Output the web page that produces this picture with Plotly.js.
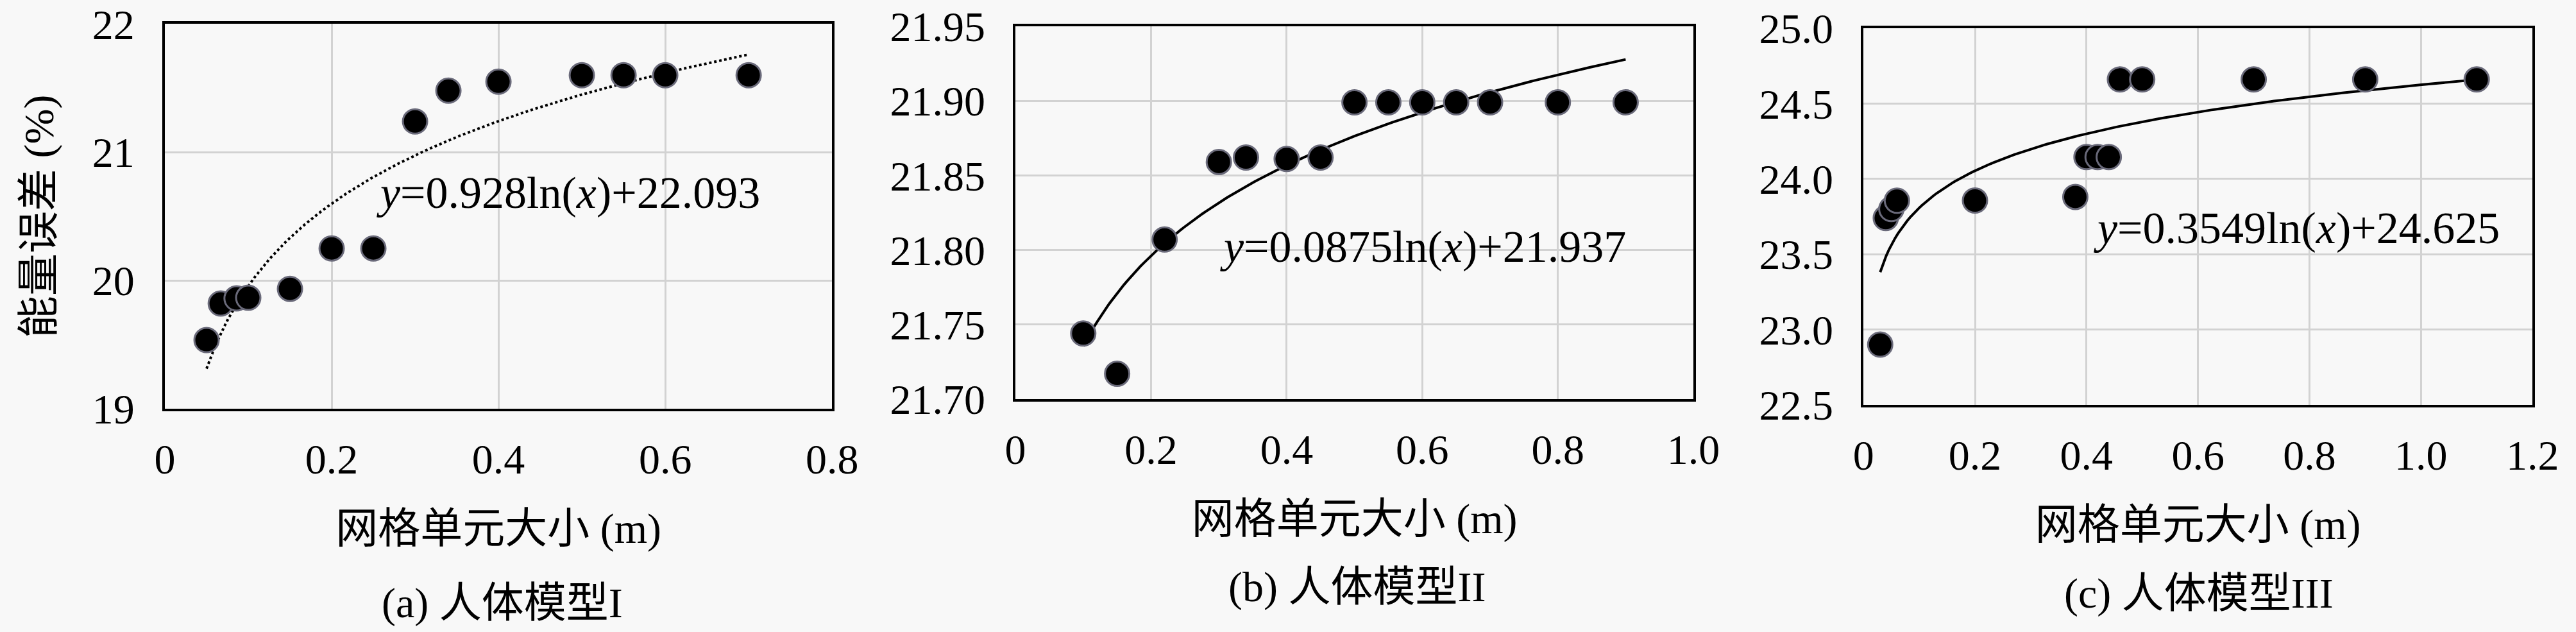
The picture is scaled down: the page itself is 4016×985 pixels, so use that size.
<!DOCTYPE html>
<html>
<head>
<meta charset="utf-8">
<script src="https://cdn.plot.ly/plotly-3.0.1.min.js"></script>
<style>
  html, body { margin: 0; padding: 0; background: #f8f8f8; }
  #graph { width: 4016px; height: 985px; }
</style>
</head>
<body>
<div id="graph"></div>
<script>
// panel (a) 人体模型I
var xA = [0.05, 0.067, 0.086, 0.1, 0.15, 0.2, 0.25, 0.3, 0.34, 0.4, 0.5, 0.55, 0.6, 0.7];
var yA = [19.535, 19.82, 19.86, 19.865, 19.935, 20.25, 20.25, 21.24, 21.48, 21.55, 21.6, 21.6, 21.6, 21.6];
var fitA = {a: 0.928, b: 22.093, from: 0.05, to: 0.7};

// panel (b) 人体模型II
var xB = [0.1, 0.15, 0.22, 0.3, 0.34, 0.4, 0.45, 0.5, 0.55, 0.6, 0.65, 0.7, 0.8, 0.9];
var yB = [21.744, 21.717, 21.807, 21.859, 21.862, 21.861, 21.862, 21.899, 21.899, 21.899, 21.899, 21.899, 21.899, 21.899];
var fitB = {a: 0.0875, b: 21.937, from: 0.1, to: 0.9};

// panel (c) 人体模型III
var xC = [0.03, 0.04, 0.05, 0.06, 0.2, 0.38, 0.4, 0.42, 0.44, 0.46, 0.5, 0.7, 0.9, 1.1];
var yC = [22.9, 23.74, 23.8, 23.855, 23.856, 23.88, 24.145, 24.145, 24.145, 24.66, 24.66, 24.66, 24.66, 24.66];
var fitC = {a: 0.3549, b: 24.625, from: 0.03, to: 1.1};

// tick labels
var xTicksA = [0, 0.2, 0.4, 0.6, 0.8];
var xTextA = ['0', '0.2', '0.4', '0.6', '0.8'];
var yTicksA = [19, 20, 21, 22];
var yTextA = ['19', '20', '21', '22'];
var xTicksB = [0, 0.2, 0.4, 0.6, 0.8, 1.0];
var xTextB = ['0', '0.2', '0.4', '0.6', '0.8', '1.0'];
var yTicksB = [21.70, 21.75, 21.80, 21.85, 21.90, 21.95];
var yTextB = ['21.70', '21.75', '21.80', '21.85', '21.90', '21.95'];
var xTicksC = [0, 0.2, 0.4, 0.6, 0.8, 1.0, 1.2];
var xTextC = ['0', '0.2', '0.4', '0.6', '0.8', '1.0', '1.2'];
var yTicksC = [22.5, 23.0, 23.5, 24.0, 24.5, 25.0];
var yTextC = ['22.5', '23.0', '23.5', '24.0', '24.5', '25.0'];

var xTitle = '网格单元大小 (m)';
var yTitle = '能量误差 (%)';
var captions = ['(a) 人体模型I', '(b) 人体模型II', '(c) 人体模型III'];
var equations = ['<i>y</i>=0.928ln(<i>x</i>)+22.093',
                 '<i>y</i>=0.0875ln(<i>x</i>)+21.937',
                 '<i>y</i>=0.3549ln(<i>x</i>)+24.625'];

var FONT = "'Liberation Serif', 'Noto Sans CJK SC', serif";

// logarithmic trendline, the same one the equation label states
function trend(fit){
    var xs = [], ys = [];
    var n = 200;
    for(var i = 0; i <= n; i++){
        var x = fit.from + (fit.to - fit.from) * i / n;
        xs.push(x);
        ys.push(fit.a * Math.log(x) + fit.b);
    }
    return {x: xs, y: ys};
}

function points(x, y, ax){
    return {
        x: x, y: y, xaxis: 'x' + ax, yaxis: 'y' + ax,
        mode: 'markers', type: 'scatter', cliponaxis: false,
        marker: {size: 38, color: '#000', line: {color: '#6a6a7a', width: 3}}
    };
}

function curve(fit, ax, dash){
    var t = trend(fit);
    return {
        x: t.x, y: t.y, xaxis: 'x' + ax, yaxis: 'y' + ax,
        mode: 'lines', type: 'scatter',
        line: {color: '#000', width: 4, dash: dash}
    };
}

function xAxis(dom, vals, text, range, anchor){
    return {
        domain: dom, range: range, anchor: anchor,
        tickmode: 'array', tickvals: vals, ticktext: text,
        ticks: 'outside', ticklen: 18, tickcolor: 'rgba(0,0,0,0)',
        ticklabeloverflow: 'allow',
        showgrid: true, gridcolor: '#d2d2d2', gridwidth: 3,
        showline: true, linecolor: '#000', linewidth: 4, mirror: true,
        zeroline: false, tickfont: {family: FONT, size: 66, color: '#000'},
        title: {text: xTitle, font: {family: FONT, size: 66, color: '#000'}, standoff: 50}
    };
}

function yAxis(dom, vals, text, range, anchor){
    return {
        domain: dom, range: range, anchor: anchor,
        tickmode: 'array', tickvals: vals, ticktext: text,
        ticks: 'outside', ticklen: 30, tickcolor: 'rgba(0,0,0,0)',
        ticklabeloverflow: 'allow',
        showgrid: true, gridcolor: '#d2d2d2', gridwidth: 3,
        showline: true, linecolor: '#000', linewidth: 4, mirror: true,
        zeroline: false, tickfont: {family: FONT, size: 66, color: '#000'}
    };
}

function caption(i, x, y){
    return {xref: 'paper', yref: 'paper', x: x, y: y, xanchor: 'center', yanchor: 'middle',
            text: captions[i], showarrow: false, font: {family: FONT, size: 66, color: '#000'}};
}

function equation(i, ax, x, y){
    return {xref: 'x' + ax, yref: 'y' + ax, x: x, y: y, xanchor: 'center', yanchor: 'middle',
            text: equations[i], showarrow: false, font: {family: FONT, size: 70, color: '#000'}};
}

function plot(){
    var data = [
        curve(fitA, '', 'dot'), points(xA, yA, ''),
        curve(fitB, '2', 'solid'), points(xB, yB, '2'),
        curve(fitC, '3', 'solid'), points(xC, yC, '3')
    ];

    var ya = yAxis([0.3533, 0.962], yTicksA, yTextA, [19, 22], 'x');
    ya.title = {text: yTitle, font: {family: FONT, size: 66, color: '#000'}, standoff: 40};

    var layout = {
        width: 4016, height: 985,
        margin: {l: 0, r: 0, t: 0, b: 0},
        paper_bgcolor: '#f8f8f8', plot_bgcolor: '#f8f8f8',
        showlegend: false,
        xaxis: xAxis([0.0640, 0.3230], xTicksA, xTextA, [0, 0.8], 'y'),
        yaxis: ya,
        xaxis2: xAxis([0.3942, 0.6574], xTicksB, xTextB, [0, 1.0], 'y2'),
        yaxis2: yAxis([0.3685, 0.9584], yTicksB, yTextB, [21.70, 21.95], 'x2'),
        xaxis3: xAxis([0.7234, 0.9831], xTicksC, xTextC, [0, 1.2], 'y3'),
        yaxis3: yAxis([0.3594, 0.9553], yTicksC, yTextC, [22.5, 25.0], 'x3'),
        annotations: [
            equation(0, '', 0.484, 20.685),
            equation(1, '2', 0.601, 21.802),
            equation(2, '3', 0.777, 23.674),
            caption(0, 0.195, 0.0457),
            caption(1, 0.5268, 0.071),
            caption(2, 0.8536, 0.061)
        ]
    };

    Plotly.newPlot('graph', data, layout, {staticPlot: true});
}

plot();
</script>
</body>
</html>
